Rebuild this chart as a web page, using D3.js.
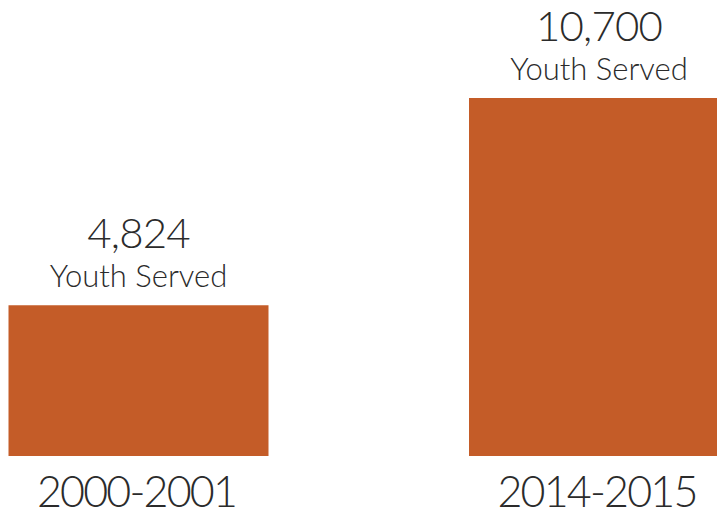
<!DOCTYPE html>
<html>
<head>
<meta charset="utf-8">
<script src="https://cdn.jsdelivr.net/npm/d3@7/dist/d3.min.js"></script>
<style>
  html, body { margin: 0; padding: 0; background: #fff; overflow: hidden; }
  svg { display: block; }
  text { font-family: "Lato", "Open Sans", sans-serif; font-weight: 300; fill: #2b2b2b; }
</style>
</head>
<body>
<svg id="chart" width="717" height="517"></svg>
<script>
// Youth served, by program year
const categories = ["2000-2001", "2014-2015"];
const youthServed = [4824, 10700];
const unitLabel = "Youth Served";

const svg = d3.select("#chart");

// horizontal placement of bar centres; the second bar runs past the right edge
const x = d3.scalePoint()
  .domain(categories)
  .range([138.5, 599]);
const barWidth = 260;

// vertical value scale (truncated baseline)
const y = d3.scaleLinear()
  .domain([550, 10700])
  .range([456, 98]);

const fmt = d3.format(",");

const g = svg.selectAll("g.bar")
  .data(categories.map((c, i) => ({ cat: c, value: youthServed[i] })))
  .join("g")
  .attr("class", "bar");

g.append("rect")
  .attr("x", d => x(d.cat) - barWidth / 2)
  .attr("y", d => y(d.value))
  .attr("width", barWidth)
  .attr("height", d => y.range()[0] - y(d.value))
  .attr("fill", "#c45c28");

g.append("text")
  .attr("x", d => x(d.cat))
  .attr("y", d => y(d.value) - 18)
  .attr("text-anchor", "middle")
  .style("font-size", "31px")
  .text(unitLabel);

g.append("text")
  .attr("x", d => x(d.cat))
  .attr("y", d => y(d.value) - 57)
  .attr("text-anchor", "middle")
  .style("font-size", "42px")
  .style("letter-spacing", "-0.8px")
  .text(d => fmt(d.value));

g.append("text")
  .attr("x", d => x(d.cat) - 2)
  .attr("y", y.range()[0] + 51)
  .attr("text-anchor", "middle")
  .style("font-size", "43px")
  .style("letter-spacing", "-1.8px")
  .text(d => d.cat);
</script>
</body>
</html>
